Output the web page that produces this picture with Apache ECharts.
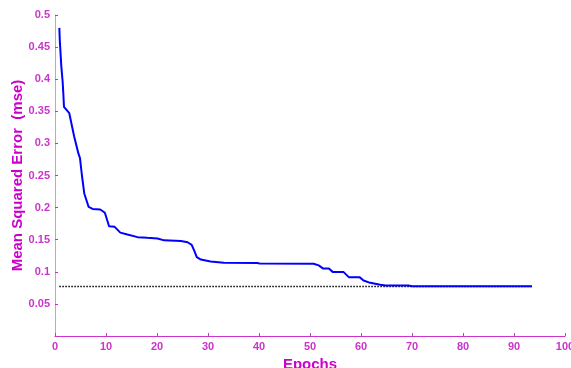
<!DOCTYPE html>
<html><head><meta charset="utf-8">
<script src="https://cdn.jsdelivr.net/npm/echarts@6/dist/echarts.min.js"></script>
<style>html,body{margin:0;padding:0;background:#fff}#c{width:571px;height:368px}</style>
</head><body><div id="c"></div>
<script>
const epochs = [0.85,0.95,1.24,1.5,1.63,1.76,2.8,3.78,4.6,4.9,5.28,5.74,6.6,7.37,8.87,9.78,10.6,11.7,12.8,14.2,16.2,18.1,20.1,21.4,24.7,26,26.8,27.3,27.8,28.6,30.5,33.1,39.7,40.1,50.7,51.7,52.6,53.7,54.5,56.6,57.6,59.7,60.5,61.8,63.8,64.8,69.3,70,93.5];
const mse = [0.480,0.459,0.420,0.396,0.378,0.357,0.347,0.310,0.284,0.277,0.250,0.222,0.201,0.198,0.197,0.192,0.171,0.170,0.161,0.158,0.154,0.153,0.152,0.149,0.148,0.146,0.142,0.133,0.123,0.119,0.116,0.114,0.1136,0.113,0.1125,0.110,0.105,0.105,0.0995,0.0995,0.0917,0.0917,0.0865,0.0828,0.0797,0.0786,0.0786,0.0776,0.0776];
const goalX = [0.85, 93.5];
const goalY = [0.077, 0.077];
const xTicks = [0,10,20,30,40,50,60,70,80,90,100];
const yTicks = [0.05,0.1,0.15,0.2,0.25,0.3,0.35,0.4,0.45,0.5];

const font = 'Liberation Sans, Arial, sans-serif';
const chart = echarts.init(document.getElementById('c'), null, {renderer:'canvas'});
chart.setOption({
  animation:false,
  grid:{left:55,right:6,top:15,bottom:32,containLabel:false,outerBoundsMode:'none'},
  xAxis:{type:'value',min:0,max:100,interval:10,
    name:'Epochs',nameLocation:'middle',nameGap:21,nameMoveOverlap:false,
    nameTextStyle:{color:'#cc00cc',fontWeight:'bold',fontSize:15,fontFamily:font},
    axisLine:{show:true,lineStyle:{color:'#cc33cc',width:1}},
    axisTick:{show:true,inside:true,length:3,lineStyle:{color:'#cc33cc'}},
    axisLabel:{color:'#cc33cc',fontWeight:'bold',fontSize:11,fontFamily:font,margin:5,
      formatter:v=>xTicks.includes(v)?String(v):''},
    splitLine:{show:false}},
  yAxis:{type:'value',min:0,max:0.5,interval:0.05,
    name:'Mean Squared Error  (mse)',nameLocation:'middle',nameGap:30,nameRotate:90,nameMoveOverlap:false,
    nameTextStyle:{color:'#cc00cc',fontWeight:'bold',fontSize:15,fontFamily:font},
    axisLine:{show:true,lineStyle:{color:'#e090e0',width:1}},
    axisTick:{show:true,inside:true,length:3,lineStyle:{color:'#cc33cc'}},
    axisLabel:{color:'#cc33cc',fontWeight:'bold',fontSize:11,fontFamily:font,margin:5,
      formatter:v=>{const t=yTicks.find(k=>Math.abs(k-v)<1e-9);return t===undefined?'':String(t);}},
    splitLine:{show:false}},
  series:[
    {type:'line',data:goalX.map((x,i)=>[x,goalY[i]]),symbol:'none',
      lineStyle:{color:'#000',width:1.5,type:[1.5,1.5]},z:1},
    {type:'line',data:epochs.map((x,i)=>[x,mse[i]]),symbol:'none',
      lineStyle:{color:'#0000ff',width:2},z:2}
  ]
});
</script></body></html>
